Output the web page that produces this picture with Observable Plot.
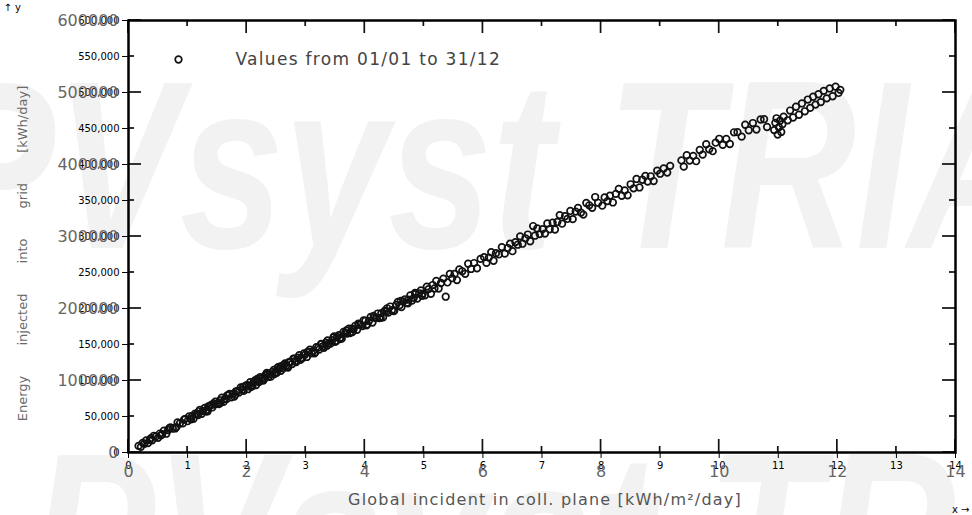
<!DOCTYPE html>
<html>
<head>
<meta charset="utf-8">
<script src="https://cdn.jsdelivr.net/npm/d3@7"></script>
<script src="https://cdn.jsdelivr.net/npm/@observablehq/plot@0.6"></script>
<style>
  html, body { margin: 0; padding: 0; background: #fff; }
  #wrap { position: relative; width: 972px; height: 515px; overflow: hidden; background: #fff; }
  .wm { position: absolute; font-family: 'Liberation Sans', sans-serif; font-style: italic; font-weight: bold;
        font-size: 240px; line-height: 1; color: #f2f2f2; white-space: nowrap;
        transform: scaleX(0.78); transform-origin: 0 0; }
  #chart { position: absolute; left: 0; top: 0; }
  #chart svg { font-family: 'DejaVu Sans', sans-serif; background: transparent; }
</style>
</head>
<body>
<div id="wrap">
  <div class="wm" id="wm1" style="left:-70px; top:45px;"></div>
  <div class="wm" id="wm2" style="left:30px; top:417px;"></div>
  <div id="chart"></div>
</div>
<script>
// Daily values: global incident irradiation in collector plane (kWh/m²/day)
const irradiance = [
  0.17,0.21,0.24,0.27,0.30,0.33,0.36,0.40,0.43,0.46,0.50,0.53,0.57,0.60,0.64,0.67,0.71,0.75,0.79,0.83,0.87,0.92,0.96,
  1.00,1.03,1.05,1.08,1.10,1.13,1.16,1.18,1.21,1.24,1.26,1.29,1.32,1.34,1.37,1.40,1.42,1.45,1.47,1.50,1.53,1.55,1.58,1.61,1.63,1.66,1.69,1.71,1.74,1.77,1.79,1.82,1.85,1.87,1.90,1.93,1.95,1.98,
  2.00,2.02,2.04,2.06,2.08,2.10,2.12,2.14,2.16,2.19,2.21,2.23,2.25,2.28,2.30,2.32,2.34,2.37,2.39,2.41,2.44,2.46,2.48,2.51,2.53,2.55,2.58,2.60,2.62,2.65,2.67,2.70,2.72,2.74,2.77,2.79,2.82,2.84,2.87,2.89,2.92,2.94,2.97,2.99,
  3.02,3.05,3.07,3.10,3.13,3.15,3.18,3.21,3.23,3.26,3.29,3.31,3.34,3.37,3.39,3.42,3.45,3.48,3.50,3.53,3.56,3.59,3.61,3.64,3.67,3.70,3.73,3.75,3.78,3.81,3.84,3.87,3.90,3.93,3.96,3.98,
  4.01,4.04,4.07,4.10,4.13,4.16,4.19,4.22,4.25,4.28,4.31,4.34,4.37,4.40,4.43,4.46,4.50,4.53,4.56,4.59,4.62,4.65,4.68,4.71,4.74,4.77,4.80,4.83,4.86,4.89,4.92,4.95,4.98,
  5.02,5.05,5.08,5.12,5.15,5.18,5.21,5.25,5.29,5.33,5.37,5.40,5.44,5.48,5.52,5.56,5.60,5.65,5.70,5.75,5.80,5.85,5.90,5.96,
  6.02,6.06,6.10,6.14,6.18,6.22,6.27,6.32,6.37,6.42,6.46,6.50,6.55,6.59,6.63,6.67,6.72,6.76,6.80,6.85,6.88,6.92,6.96,
  7.01,7.05,7.09,7.13,7.18,7.22,7.26,7.30,7.34,7.39,7.43,7.48,7.52,7.57,7.61,7.66,7.70,7.75,7.80,7.85,7.90,7.95,
  8.02,8.06,8.11,8.15,8.20,8.25,8.30,8.35,8.40,8.45,8.50,8.55,8.60,8.65,8.70,8.75,8.79,8.84,8.89,8.95,9.00,9.06,9.12,9.17,
  9.36,9.40,9.45,9.50,9.56,9.61,9.67,9.72,9.78,9.83,9.89,9.94,10.00,10.06,10.12,10.18,10.25,10.31,10.38,10.44,10.50,10.57,10.63,10.70,
  10.76,10.81,10.93,10.95,10.97,10.99,11.01,11.03,11.05,11.07,11.09,11.16,11.20,11.25,11.30,11.35,11.40,11.45,11.50,11.54,11.59,11.63,11.68,11.72,11.77,11.82,11.87,11.92,11.97,12.02,12.05,
  0.38,0.55,0.69,0.81,0.94,1.06,1.19,1.31,1.44,1.56,1.67,1.81,1.94,2.07,2.18,2.29,2.36,2.47,2.57,2.69,2.81,2.91,3.03,3.16,3.27,3.36,3.47,3.58,3.69,3.79,3.89,4.03,4.15,4.27,4.38,4.49,4.61,4.73,4.85,4.97,2.63,1.35,3.52
];
// Daily energy injected into grid (kWh/day)
const energy = [
  9200,7900,13300,12100,16900,13000,17200,16900,23200,22000,20400,26300,25500,30400,26100,31200,34800,33300,33400,41800,40300,40400,46700,
  43500,50300,47500,50900,46700,54100,53800,52000,59300,53800,57700,61800,58900,57300,64000,66200,62600,66700,70700,67500,67300,72500,76200,70300,74400,74100,80000,81500,76500,81400,77700,85000,85500,83400,90400,87400,85700,92600,
  93500,87900,93200,97600,92700,92300,97900,100000,93700,99700,97900,104800,103100,100000,103600,107800,110400,104900,108400,105300,112100,114700,111200,110800,118600,116200,113500,120000,116900,123600,120800,118000,125700,125400,122900,130300,126800,125600,131800,135100,130900,130900,137500,136000,
  132700,139700,142700,137800,141200,137800,146400,145600,143000,150900,147500,145500,152400,155600,151400,151200,155900,161200,153700,160400,163000,159500,158100,167400,166100,165100,172000,165800,172000,171000,176000,170500,177800,177400,175600,183400,
  183000,177700,182500,188400,180400,187400,186600,193000,186700,193500,187700,197100,196100,194300,202700,197800,197300,205100,209100,204400,201900,209800,212800,207800,212200,218100,211100,214800,220000,213800,221100,225200,220600,
  218400,230400,226900,220500,232600,227800,238400,227800,235400,241500,216400,236200,248000,242100,248000,239500,254200,251700,248200,262200,254900,263100,255900,268900,
  271300,263300,270700,278200,266300,276800,275100,285300,276200,284000,290100,279600,292200,288600,300200,290000,297500,302700,293400,314500,301100,311100,303300,
  310300,304100,318100,310100,319300,309700,320200,329700,317800,328100,324400,335500,324100,334600,339600,333200,330400,346500,343300,339800,354800,346800,
  342800,354300,349200,356600,347300,359200,366200,356600,363900,357200,372500,366900,379900,368100,378800,384200,376300,383600,377000,391500,387200,394500,388800,398100,
  405700,397000,412900,405500,412000,404600,420200,413700,428200,421100,418500,430300,435700,427200,435400,428500,444700,444900,438700,455200,447600,457600,448600,462500,
  462900,452100,447800,457900,464200,441500,451700,460800,445200,455900,466300,461400,474900,465300,480200,469100,484800,473900,490200,478600,494100,483200,497600,486700,502300,491900,505600,494800,508100,499400,503700,
  19900,23800,33900,35200,45600,46100,57200,57000,68300,68900,79100,80300,91200,91000,102100,100900,109600,108800,119500,119300,130400,128700,139800,139000,150600,148300,159900,157600,169500,167300,178800,176600,189800,187200,200300,196500,210600,207100,221700,217600,121800,63900,155100
];

const xTicks = [0, 2, 4, 6, 8, 10, 12, 14];
const xMinorTicks = [1, 3, 5, 7, 9, 11, 13];
const yTicks = [0, 100000, 200000, 300000, 400000, 500000, 600000];
const yMinorTicks = [50000, 150000, 250000, 350000, 450000, 550000];

const legendLabel = "Values from 01/01 to 31/12";
const xLabel = "Global incident in coll. plane [kWh/m²/day]";
const yLabel = "Energy injected into grid [kWh/day]";
const watermark = "PVsyst TRIAL";

document.getElementById("wm1").textContent = watermark;
document.getElementById("wm2").textContent = watermark;

const points = irradiance.map((x, i) => ({x, y: energy[i]}));

// chart geometry; tick lengths are given in pixels and converted to scale units
const W = 972, H = 515, mL = 128, mR = 17, mT = 20, mB = 63;
const xDomain = [0, 14], yDomain = [0, 600000];
const ux = (xDomain[1] - xDomain[0]) / (W - mL - mR);   // x units per pixel
const uy = (yDomain[1] - yDomain[0]) / (H - mT - mB);   // y units per pixel
const majorPx = 13, minorPx = 6, halfPx = 0.85;
const tickFill = {fill: "#111"};

function xTickRects(values, len) {
  return [
    Plot.rect(values, {x1: d => d - halfPx * ux, x2: d => d + halfPx * ux, y1: yDomain[0], y2: yDomain[0] + len * uy, ...tickFill}),
    Plot.rect(values, {x1: d => d - halfPx * ux, x2: d => d + halfPx * ux, y1: yDomain[1] - len * uy, y2: yDomain[1], ...tickFill})
  ];
}
function yTickRects(values, len) {
  return [
    Plot.rect(values, {y1: d => d - halfPx * uy, y2: d => d + halfPx * uy, x1: xDomain[0], x2: xDomain[0] + len * ux, ...tickFill}),
    Plot.rect(values, {y1: d => d - halfPx * uy, y2: d => d + halfPx * uy, x1: xDomain[1] - len * ux, x2: xDomain[1], ...tickFill})
  ];
}

const chart = Plot.plot({
  width: W,
  height: H,
  marginLeft: mL,
  marginRight: mR,
  marginTop: mT,
  marginBottom: mB,
  x: {domain: xDomain},
  y: {domain: yDomain},
  marks: [
    // data
    Plot.dot(points, {x: "x", y: "y", r: 3.3, stroke: "#111", strokeWidth: 1.7, fill: "none"}),

    // inward ticks on the four sides
    ...xTickRects(xTicks, majorPx),
    ...xTickRects(xMinorTicks, minorPx),
    ...yTickRects(yTicks, majorPx),
    ...yTickRects(yMinorTicks, minorPx),

    // tick labels
    Plot.text(xTicks, {x: d => d, text: d => String(d), frameAnchor: "bottom", dy: 13, lineAnchor: "top",
      fontSize: 16, fill: "#666", ariaLabel: "x tick labels"}),
    Plot.text(yTicks, {y: d => d, text: d => String(d), frameAnchor: "left", dx: -10, textAnchor: "end", lineAnchor: "middle",
      fontSize: 16, fill: "#666", ariaLabel: "y tick labels"}),

    // axis titles
    Plot.text([xLabel], {frameAnchor: "bottom", dx: 3, dy: 47, lineAnchor: "middle", textAnchor: "middle", fontSize: 16, fill: "#555"}),
    Plot.text([yLabel], {frameAnchor: "left", dx: -106, dy: 17, rotate: -90, lineAnchor: "middle", textAnchor: "middle", fontSize: 13, fill: "#6a6a6a"}),

    // legend
    Plot.dot([legendLabel], {frameAnchor: "top-left", dx: 50, dy: 39, r: 3.3, stroke: "#111", strokeWidth: 1.7, fill: "none"}),
    Plot.text([legendLabel], {frameAnchor: "top-left", dx: 107, dy: 39, textAnchor: "start", lineAnchor: "middle", fontSize: 17, fill: "#444"}),

    Plot.frame({strokeWidth: 2.5})
  ]
});

document.getElementById("chart").appendChild(chart);

// typographic fine-tuning
const svg = d3.select(chart);
svg.selectAll("g[aria-label='x tick labels'] text, g[aria-label='y tick labels'] text")
  .style("letter-spacing", "1.3px");
svg.selectAll("text").filter(function () { return this.textContent === yLabel; })
  .style("word-spacing", "26px");
svg.selectAll("text").filter(function () { return this.textContent === xLabel; })
  .style("letter-spacing", "1.2px");
svg.selectAll("text").filter(function () { return this.textContent === legendLabel; })
  .style("letter-spacing", "1.3px");
</script>
</body>
</html>
